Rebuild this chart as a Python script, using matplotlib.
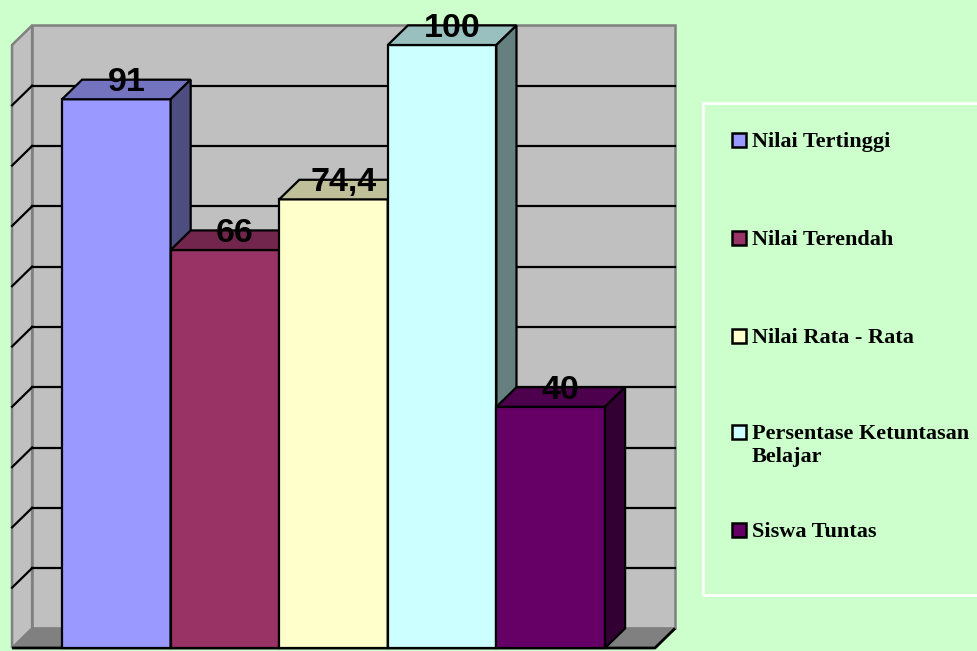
import matplotlib
matplotlib.use("Agg")
import matplotlib.pyplot as plt
from matplotlib.patches import Polygon, Rectangle
import numpy as np

# ---- data ----
categories = ['Nilai Tertinggi', 'Nilai Terendah', 'Nilai Rata - Rata',
              'Persentase Ketuntasan\nBelajar', 'Siswa Tuntas']
values = [91, 66, 74.4, 100, 40]
value_labels = ['91', '66', '74,4', '100', '40']
colors = ['#9999FF', '#993366', '#FFFFCC', '#CCFFFF', '#660066']
y_ticks = [0, 10, 20, 30, 40, 50, 60, 70, 80, 90, 100]

# ---- styling / geometry ----
BG = '#CCFFCC'
WALL = '#C0C0C0'
FLOOR = '#808080'
EDGE_GRAY = '#808080'
W, H, DPI = 978, 651, 100

def shade(c, f):
    r, g, b = matplotlib.colors.to_rgb(c)
    return (r * f, g * f, b * f)

fig = plt.figure(figsize=(W / DPI, H / DPI), dpi=DPI, facecolor=BG)
ax = fig.add_axes([0, 0, 1, 1])
ax.set_facecolor(BG)
ax.axis('off')

# pixel mapping: bar width 108.6 px, first bar left edge at x=62 px; value 0 at y=648, 6.03 px per unit
bw_px, x0_px = 108.6, 62.0
ax.set_xlim(-x0_px / bw_px - 0.5, (W - x0_px) / bw_px - 0.5)
ax.set_ylim((648 - H) / 6.03, 648 / 6.03)

dx, dy = 0.185, 3.25          # depth offset (units)
xl, xr = -0.96, 4.96          # front plane extent
ymax = max(y_ticks)

# back wall
ax.add_patch(Polygon([(xl + dx, dy), (xr + dx, dy), (xr + dx, ymax + dy), (xl + dx, ymax + dy)],
                     closed=True, facecolor=WALL, edgecolor=EDGE_GRAY, lw=1.8, zorder=1))
# side wall
ax.add_patch(Polygon([(xl, 0), (xl + dx, dy), (xl + dx, ymax + dy), (xl, ymax)],
                     closed=True, facecolor=WALL, edgecolor=EDGE_GRAY, lw=1.8, zorder=1))
# floor
ax.add_patch(Polygon([(xl, 0), (xl + dx, dy), (xr + dx, dy), (xr, 0)],
                     closed=True, facecolor=FLOOR, edgecolor=EDGE_GRAY, lw=1.2, zorder=1.5))
ax.plot([xl, xr, xr + dx], [0, 0, dy], color='black', lw=2, zorder=2, solid_capstyle='butt')

# gridlines
for t in y_ticks[1:-1]:
    ax.plot([xl + dx, xr + dx], [t + dy, t + dy], color='black', lw=1.6, zorder=2)
    ax.plot([xl, xl + dx], [t, t + dy], color='black', lw=1.6, zorder=2)

# bars (painter's order left->right)
for i, (v, c, lab) in enumerate(zip(values, colors, value_labels)):
    l, r = i - 0.5, i + 0.5
    z = 3 + i * 0.1
    ax.add_patch(Polygon([(l, 0), (r, 0), (r, v), (l, v)], closed=True,
                         facecolor=c, edgecolor='black', lw=1.6, zorder=z, joinstyle='miter'))
    ax.add_patch(Polygon([(l, v), (l + dx, v + dy), (r + dx, v + dy), (r, v)], closed=True,
                         facecolor=shade(c, 0.75), edgecolor='black', lw=1.6, zorder=z, joinstyle='miter'))
    ax.add_patch(Polygon([(r, 0), (r + dx, dy), (r + dx, v + dy), (r, v)], closed=True,
                         facecolor=shade(c, 0.5), edgecolor='black', lw=1.6, zorder=z, joinstyle='miter'))

for i, (v, lab) in enumerate(zip(values, value_labels)):
    ax.text(i + dx / 2, v + dy - 0.5, lab, ha='center', va='center',
            fontsize=24.5, fontweight='bold', family=['Liberation Sans', 'DejaVu Sans'],
            color='black', zorder=10)

# legend (manual, figure pixel coords)
def fx(px):
    return px / W

def fy(py):
    return 1 - py / H

fig.add_artist(Rectangle((fx(703), fy(595)), fx(990) - fx(703), fy(103) - fy(595),
                         transform=fig.transFigure, facecolor='none', edgecolor='white', lw=2))
entry_y = [140, 238, 336, 432, 530]
for cat, c, yy in zip(categories, colors, entry_y):
    fig.add_artist(Rectangle((fx(731.5), fy(yy + 7)), fx(14), 14 / H,
                             transform=fig.transFigure, facecolor=c, edgecolor='black', lw=1.8))
    fig.text(fx(752), fy(yy - 8), cat, ha='left', va='top', fontsize=16, fontweight='bold',
             family=['Liberation Serif', 'DejaVu Serif'], linespacing=1.2)

fig.savefig('out.png', dpi=DPI, facecolor=BG)
